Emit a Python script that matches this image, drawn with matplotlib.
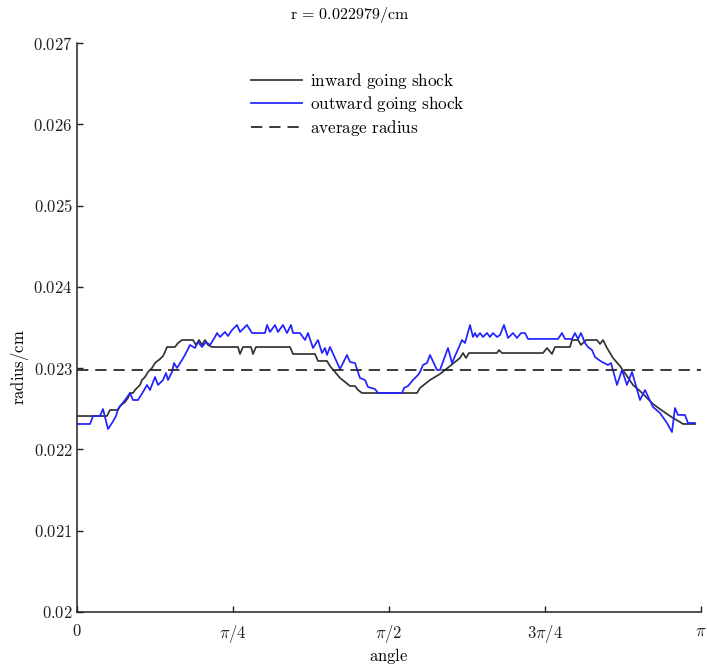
import numpy as np
import matplotlib
matplotlib.use("Agg")
import matplotlib.pyplot as plt

plt.rcParams['mathtext.fontset'] = 'cm'
plt.rcParams['font.family'] = ['DejaVu Serif']

# ---- data (angle in degrees, radius in cm) ----
inward_deg = [0, 8.65, 9.52, 11.83, 12.40, 13.85, 14.71, 15.29, 16.15, 16.73, 18.17, 18.75, 19.62,
              20.48, 21.63, 22.50, 23.94, 24.81, 25.38, 25.96, 28.27, 29.13, 30.29, 33.46, 34.33,
              35.19, 36.06, 36.92, 37.79, 38.94, 46.44, 47.02, 47.88, 50.19, 50.77, 51.63, 61.44,
              62.31, 68.65, 69.52, 72.12, 72.98, 74.42, 75.87, 77.31, 78.75, 80.19, 81.06, 82.21,
              98.08, 98.94, 100.38, 101.83, 103.27, 104.71, 106.15, 107.60, 109.04, 110.48, 111.35,
              112.21, 113.08, 121.15, 121.73, 122.60, 134.42, 135.58, 137.02, 137.88, 142.21,
              142.79, 144.52, 145.38, 146.83, 150.00, 150.87, 151.73, 152.88, 154.62, 156.63,
              158.65, 160.38, 162.40, 164.42, 166.15, 168.17, 170.19, 171.92, 173.94, 174.81, 178.27]
inward_r = [.022411, .022411, .022485, .022485, .022534, .022583, .022633, .022694, .022694, .022731,
            .022793, .022854, .022891, .022953, .023002, .023063, .023112, .023149, .023199, .023260,
            .023260, .023309, .023346, .023346, .023285, .023346, .023285, .023346, .023285, .023260,
            .023260, .023174, .023260, .023260, .023174, .023260, .023260, .023174, .023174, .023088,
            .023088, .023026, .022953, .022879, .022830, .022780, .022780, .022731, .022694, .022694,
            .022756, .022805, .022854, .022891, .022928, .022977, .023026, .023076, .023125, .023186,
            .023125, .023186, .023186, .023223, .023186, .023186, .023248, .023174, .023260, .023260,
            .023346, .023346, .023285, .023346, .023346, .023297, .023346, .023248, .023125, .023026,
            .022903, .022793, .022719, .022633, .022559, .022497, .022436, .022387, .022337, .022313,
            .022313]

outward_deg = [0, 3.75, 4.62, 6.63, 7.50, 8.94, 10.10, 11.25, 11.83, 13.85, 15.29, 16.15, 17.60, 19.04,
               20.19, 21.06, 22.50, 23.37, 24.81, 25.67, 26.25, 27.40, 27.98, 28.85, 30.29, 31.15,
               32.60, 34.04, 34.90, 36.06, 37.21, 38.37, 39.81, 40.38, 41.25, 42.69, 43.56, 44.71,
               46.15, 47.02, 49.04, 50.48, 54.23, 54.81, 55.67, 57.12, 57.98, 59.42, 60.58, 61.73,
               62.31, 64.33, 65.77, 66.63, 68.08, 69.52, 70.67, 71.54, 72.12, 72.98, 75.87, 77.88,
               78.75, 80.19, 81.63, 83.08, 83.94, 85.96, 86.83, 93.75, 94.33, 95.48, 96.92, 98.37,
               98.94, 99.81, 100.96, 101.83, 103.85, 104.71, 107.02, 108.17, 111.06, 111.92, 113.37,
               114.23, 114.81, 115.38, 116.25, 117.12, 118.27, 119.13, 120.00, 121.15, 122.02, 123.17,
               124.33, 125.77, 126.92, 128.08, 129.23, 130.10, 138.75, 139.90, 140.77, 142.79, 143.65,
               144.52, 145.38, 146.54, 147.40, 148.56, 149.42, 150.58, 151.44, 153.17, 154.04, 155.77,
               157.21, 158.65, 160.10, 162.40, 163.85, 166.15, 168.17, 170.19, 171.63, 172.50, 173.37,
               175.38, 176.25, 178.27]
outward_r = [.022313, .022313, .022411, .022411, .022497, .022251, .022325, .022411, .022497, .022608,
             .022694, .022608, .022608, .022707, .022793, .022731, .022891, .022793, .022854, .022940,
             .022854, .022953, .023063, .023002, .023100, .023162, .023285, .023248, .023322, .023260,
             .023322, .023285, .023383, .023432, .023383, .023445, .023395, .023469, .023531, .023445,
             .023531, .023432, .023432, .023531, .023445, .023531, .023445, .023531, .023432, .023531,
             .023432, .023432, .023346, .023432, .023248, .023346, .023186, .023248, .023162, .023260,
             .022989, .023162, .023076, .023063, .022879, .022854, .022768, .022743, .022694, .022694,
             .022756, .022780, .022854, .022916, .022953, .023039, .023063, .023162, .022977, .022977,
             .023248, .023063, .023346, .023309, .023531, .023383, .023432, .023383, .023432, .023383,
             .023432, .023383, .023432, .023383, .023408, .023531, .023371, .023432, .023371, .023432,
             .023432, .023359, .023359, .023432, .023359, .023359, .023432, .023359, .023432, .023309,
             .023260, .023223, .023137, .023100, .023076, .023039, .023063, .022793, .022977, .022793,
             .022953, .022608, .022731, .022522, .022448, .022325, .022214, .022510, .022424, .022424,
             .022325, .022325]

average_radius = 0.022979

x_ticks = [0, np.pi / 4, np.pi / 2, 3 * np.pi / 4, np.pi]
x_tick_labels = [r'$0$', r'$\pi/4$', r'$\pi/2$', r'$3\pi/4$', r'$\pi$']
y_ticks = [0.020, 0.021, 0.022, 0.023, 0.024, 0.025, 0.026, 0.027]
y_tick_labels = [r'$0.02$', r'$0.021$', r'$0.022$', r'$0.023$', r'$0.024$', r'$0.025$', r'$0.026$', r'$0.027$']

# ---- figure ----
fig = plt.figure(figsize=(7.07, 6.65), dpi=100)
ax = fig.add_axes([77 / 707, 53 / 665, 624 / 707, 569 / 665])

ax.plot(np.deg2rad(inward_deg), inward_r, color='#333333', lw=1.25,
        label=r'$\mathrm{inward\ going\ shock}$')
ax.plot(np.deg2rad(outward_deg), outward_r, color='#2222ff', lw=1.25,
        label=r'$\mathrm{outward\ going\ shock}$')
ax.plot([0, np.pi], [average_radius, average_radius], color='#222222', lw=1.25,
        dashes=(6.5, 4), label=r'$\mathrm{average\ radius}$')

ax.set_xlim(0, np.pi)
ax.set_ylim(0.020, 0.027)
ax.set_xticks(x_ticks)
ax.set_xticklabels(x_tick_labels)
ax.set_yticks(y_ticks)
ax.set_yticklabels(y_tick_labels)
ax.tick_params(direction='in', length=4, width=1, labelsize=12, colors='#222222')
ax.tick_params(axis='x', pad=8)
ax.tick_params(axis='y', pad=3)

for s in ['top', 'right']:
    ax.spines[s].set_visible(False)
for s in ['left', 'bottom']:
    ax.spines[s].set_linewidth(1.1)
    ax.spines[s].set_color('#222222')

ax.set_xlabel(r'$\mathrm{angle}$', fontsize=12, labelpad=1)
ax.set_ylabel(r'$\mathrm{radius/cm}$', fontsize=12, labelpad=2)
ax.yaxis.set_label_coords(-0.073, 0.43)

fig.text(0.494, 0.977, r'$\mathrm{r}\,=\,0.022979/\mathrm{cm}$', ha='center', va='center', fontsize=11.5)

ax.legend(loc='upper left', bbox_to_anchor=(0.268, 0.963), frameon=False,
          fontsize=12.3, handlelength=3.0, handletextpad=0.45, labelspacing=0.2,
          borderaxespad=0)

fig.savefig('out.png', dpi=100)
